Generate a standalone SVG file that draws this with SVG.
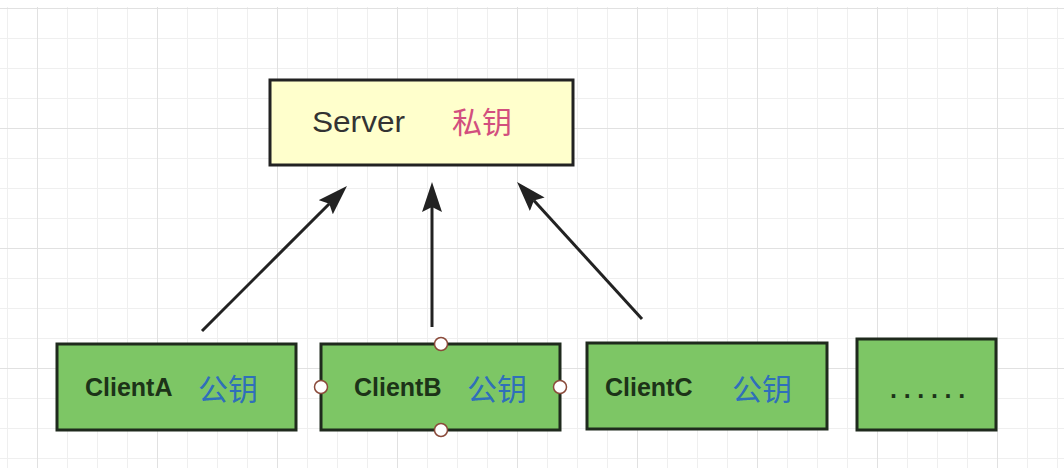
<svg xmlns="http://www.w3.org/2000/svg" width="1064" height="468" viewBox="0 0 1064 468">
  <defs>
    <pattern id="grid" patternUnits="userSpaceOnUse" x="37" y="8" width="120" height="120">
      <rect width="120" height="120" fill="#ffffff"/>
      <path d="M30.5 0V120M60.5 0V120M90.5 0V120M0 30.5H120M0 60.5H120M0 90.5H120" stroke="#efefef" stroke-width="1" fill="none"/>
      <path d="M0.5 0V120M0 0.5H120" stroke="#e1e1e1" stroke-width="1" fill="none"/>
    </pattern>
    <marker id="arrow" markerUnits="userSpaceOnUse" viewBox="0 0 30 20" refX="5" refY="10" markerWidth="30" markerHeight="20" orient="auto">
      <path d="M0,0 L30,10 L0,20 L5,10 Z" fill="#222222"/>
    </marker>
  </defs>
  <style>
    .server { fill: #ffffcc; stroke: #222222; stroke-width: 3; }
    .client { fill: #7dc665; stroke: #1f2a1d; stroke-width: 3; }
    .en { font-family: "Liberation Sans", Arial, sans-serif; }
    .cjk { font-family: "Noto Sans CJK SC", sans-serif; font-size: 30px; }
    .cname { font-family: "Liberation Sans", Arial, sans-serif; font-weight: bold; font-size: 25px; fill: #1c3318; }
    .pub { fill: #2f6fba; }
    .edge { stroke: #222222; stroke-width: 3; fill: none; marker-end: url(#arrow); }
    .handle { fill: #ffffff; stroke: #8a4a3a; stroke-width: 1.5; }
  </style>
  <rect x="0" y="0" width="1064" height="468" fill="#ffffff"/>
  <rect x="0" y="7" width="1064" height="461" fill="url(#grid)"/>

  <g id="connectors">
    <line class="edge" x1="202" y1="331" x2="329.3" y2="203.7"/>
    <line class="edge" x1="432" y1="327" x2="432" y2="207"/>
    <line class="edge" x1="642" y1="319" x2="533.9" y2="200.5"/>
  </g>

  <g id="server">
    <rect class="server" x="270" y="80" width="303" height="85"/>
    <text class="en" x="312" y="132" font-size="30" fill="#333333" textLength="93" lengthAdjust="spacingAndGlyphs">Server</text>
    <text class="cjk" x="452" y="133" fill="#d24f7e">私钥</text>
  </g>

  <g id="clientA">
    <rect class="client" x="57" y="344" width="239" height="86"/>
    <text class="cname" x="85" y="396">ClientA</text>
    <text class="cjk pub" x="198" y="400">公钥</text>
  </g>

  <g id="clientB">
    <rect class="client" x="321" y="344" width="239" height="86"/>
    <text class="cname" x="354" y="396">ClientB</text>
    <text class="cjk pub" x="467" y="400">公钥</text>
    <circle class="handle" cx="441" cy="344" r="6.5"/>
    <circle class="handle" cx="441" cy="430" r="6.5"/>
    <circle class="handle" cx="321" cy="387" r="6.5"/>
    <circle class="handle" cx="560" cy="387" r="6.5"/>
  </g>

  <g id="clientC">
    <rect class="client" x="587" y="343" width="240" height="86"/>
    <text class="cname" x="605" y="396">ClientC</text>
    <text class="cjk pub" x="732" y="400">公钥</text>
  </g>

  <g id="more">
    <rect class="client" x="857" y="339" width="139" height="91"/>
    <text class="cname" x="890" y="398" font-size="24" letter-spacing="6.7">......</text>
  </g>
</svg>
